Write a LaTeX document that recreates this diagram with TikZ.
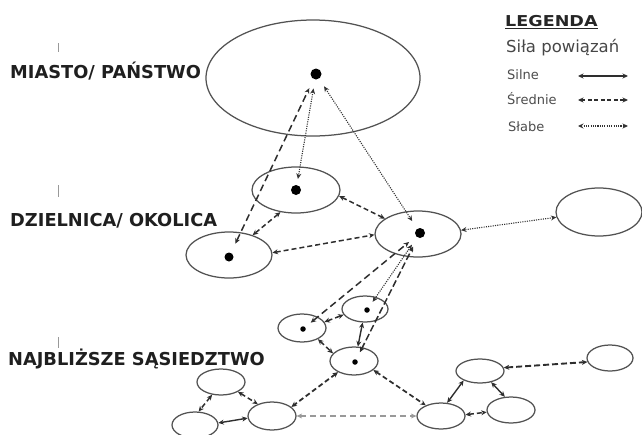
\documentclass[tikz,border=0pt]{standalone}
\usepackage{fontspec}
\setmainfont{DejaVu Sans}
\usetikzlibrary{shapes.geometric,arrows.meta}
\begin{document}
\begin{tikzpicture}[x=1pt,y=-1pt,
  >={Stealth[length=5.5pt,width=5pt]},
  oval/.style args={#1/#2}{ellipse, draw=black!68, line width=1.25pt, inner sep=0pt,
     minimum width=#1pt, minimum height=#2pt},
  bigdot/.style={circle, fill=black, inner sep=0pt, minimum size=#1pt},
  strong/.style={<->, draw=black!82, line width=1.4pt},
  medium/.style={<->, draw=black!82, line width=1.5pt, dash pattern=on 5pt off 3pt},
  weak/.style={<->, draw=black!80, line width=1.1pt, dash pattern=on 1.1pt off 1.2pt},
  faint/.style={<->, draw=black!40, line width=1.2pt, dash pattern=on 6pt off 4pt},
  level/.style={anchor=base west, inner sep=0pt, font=\fontsize{17.8}{20}\selectfont\bfseries, text=black!88},
  legtxt/.style={anchor=base west, inner sep=0pt, font=\fontsize{13}{15}\selectfont, text=black!70},
  tick/.style={draw=black!40, line width=1pt}
]
\useasboundingbox (0,0) rectangle (642,434);

% ---------- level labels ----------
\node[level] (l1) at (10,78) {MIASTO/ PAŃSTWO};
\node[level] (l2) at (10,226) {DZIELNICA/ OKOLICA};
\node[level] (l3) at (8,365) {NAJBLIŻSZE SĄSIEDZTWO};
\draw[tick] (58,43) -- (58,52);
\draw[tick] (58,185) -- (58,197);
\draw[tick] (58,337) -- (58,348);

% ---------- ovals ----------
\node[oval=214/116] (e1) at (313,78) {};
\node[oval=88/46] (e2) at (296,190) {};
\node[oval=86/46] (e3) at (229,255) {};
\node[oval=86/46] (e4) at (418,234) {};
\node[oval=86/48] (e5) at (599,212) {};
\node[oval=48/28] (e6) at (302,328) {};
\node[oval=46/26] (e7) at (365,309) {};
\node[oval=48/28] (e8) at (354,361) {};
\node[oval=48/26] (e9) at (221,382) {};
\node[oval=46/26] (e10) at (195,425) {};
\node[oval=48/28] (e11) at (272,416) {};
\node[oval=48/24] (e12) at (480,371) {};
\node[oval=48/26] (e13) at (511,410) {};
\node[oval=48/26] (e14) at (441,416) {};
\node[oval=46/26] (e15) at (610,358) {};

% ---------- dots ----------
\node[bigdot=11] (d1) at (316,74) {};
\node[bigdot=10] (d2) at (296,190) {};
\node[bigdot=9] (d3) at (229,257) {};
\node[bigdot=10] (d4) at (420,233) {};
\node[bigdot=5.5] (d6) at (303,329) {};
\node[bigdot=5.5] (d7) at (367,310) {};
\node[bigdot=5.5] (d8) at (355,362) {};

% ---------- city links ----------
\draw[medium, dash pattern=on 7pt off 4pt, shorten <=10pt, shorten >=10pt] (d3) -- (d1);
\draw[weak, shorten <=9pt, shorten >=6pt] (d1) -- (d2);
\draw[weak, shorten <=9pt, shorten >=9pt] (d1) -- (d4);

% ---------- district links ----------
\draw[medium] (e2.-8) -- (e4.155);
\draw[medium] (e2.-125) -- (e3.40);
\draw[medium] (e3.3) -- (e4.181);
\draw[weak] (e5.187) -- (e4.5);

% ---------- neighbourhood to district ----------
\draw[medium, dash pattern=on 7pt off 4pt, shorten <=7pt, shorten >=9pt] (d6) -- (d4);
\draw[weak, shorten <=7pt, shorten >=9pt] (d7) -- (d4);
\draw[medium, dash pattern=on 7pt off 3pt, shorten <=8pt, shorten >=10pt] (d8) -- (d4);

% ---------- neighbourhood links ----------
\draw[medium] (e6.15) -- (e7.195);
\draw[strong] (e7.-100) -- (e8.75);
\draw[medium] (e6.-35) -- (e8.160);
\draw[medium, line width=1.8pt] (e8.-145) -- (e11.25);
\draw[medium, line width=1.7pt] (e8.-25) -- (e14.145);
\draw[faint] (e11.0) -- (e14.180);
\draw[medium] (e9.-125) -- (e10.75);
\draw[medium] (e9.-30) -- (e11.140);
\draw[strong] (e10.5) -- (e11.185);
\draw[medium, line width=1.9pt, dash pattern=on 6pt off 3pt] (e12.8) -- (e15.190);
\draw[strong] (e12.-150) -- (e14.65);
\draw[strong] (e12.-45) -- (e13.115);
\draw[medium] (e14.3) -- (e13.185);

% ---------- legend ----------
\node[anchor=base west, inner sep=0pt, font=\fontsize{15}{17}\selectfont\bfseries, text=black!85]
  (leg) at (505,26) {\scalebox{1.17}[1]{LEGENDA}};
\draw[black!85, line width=1.2pt] ([yshift=-2.5pt]leg.base west) -- ([yshift=-2.5pt]leg.base east);
\node[anchor=base west, inner sep=0pt, font=\fontsize{16.5}{18}\selectfont, text=black!72]
  (sub) at (506,52) {Siła powiązań};
\node[legtxt] (t1) at (507,79) {Silne};
\node[legtxt] (t2) at (507,104) {Średnie};
\node[legtxt] (t3) at (508,131) {Słabe};
\coordinate (a1) at (578,76);  \coordinate (b1) at (628,76);
\coordinate (a2) at (578,100); \coordinate (b2) at (628,100);
\coordinate (a3) at (578,126); \coordinate (b3) at (628,126);
\draw[strong] (a1) -- (b1);
\draw[medium, dash pattern=on 4pt off 2.5pt] (a2) -- (b2);
\draw[weak] (a3) -- (b3);
\end{tikzpicture}
\end{document}
